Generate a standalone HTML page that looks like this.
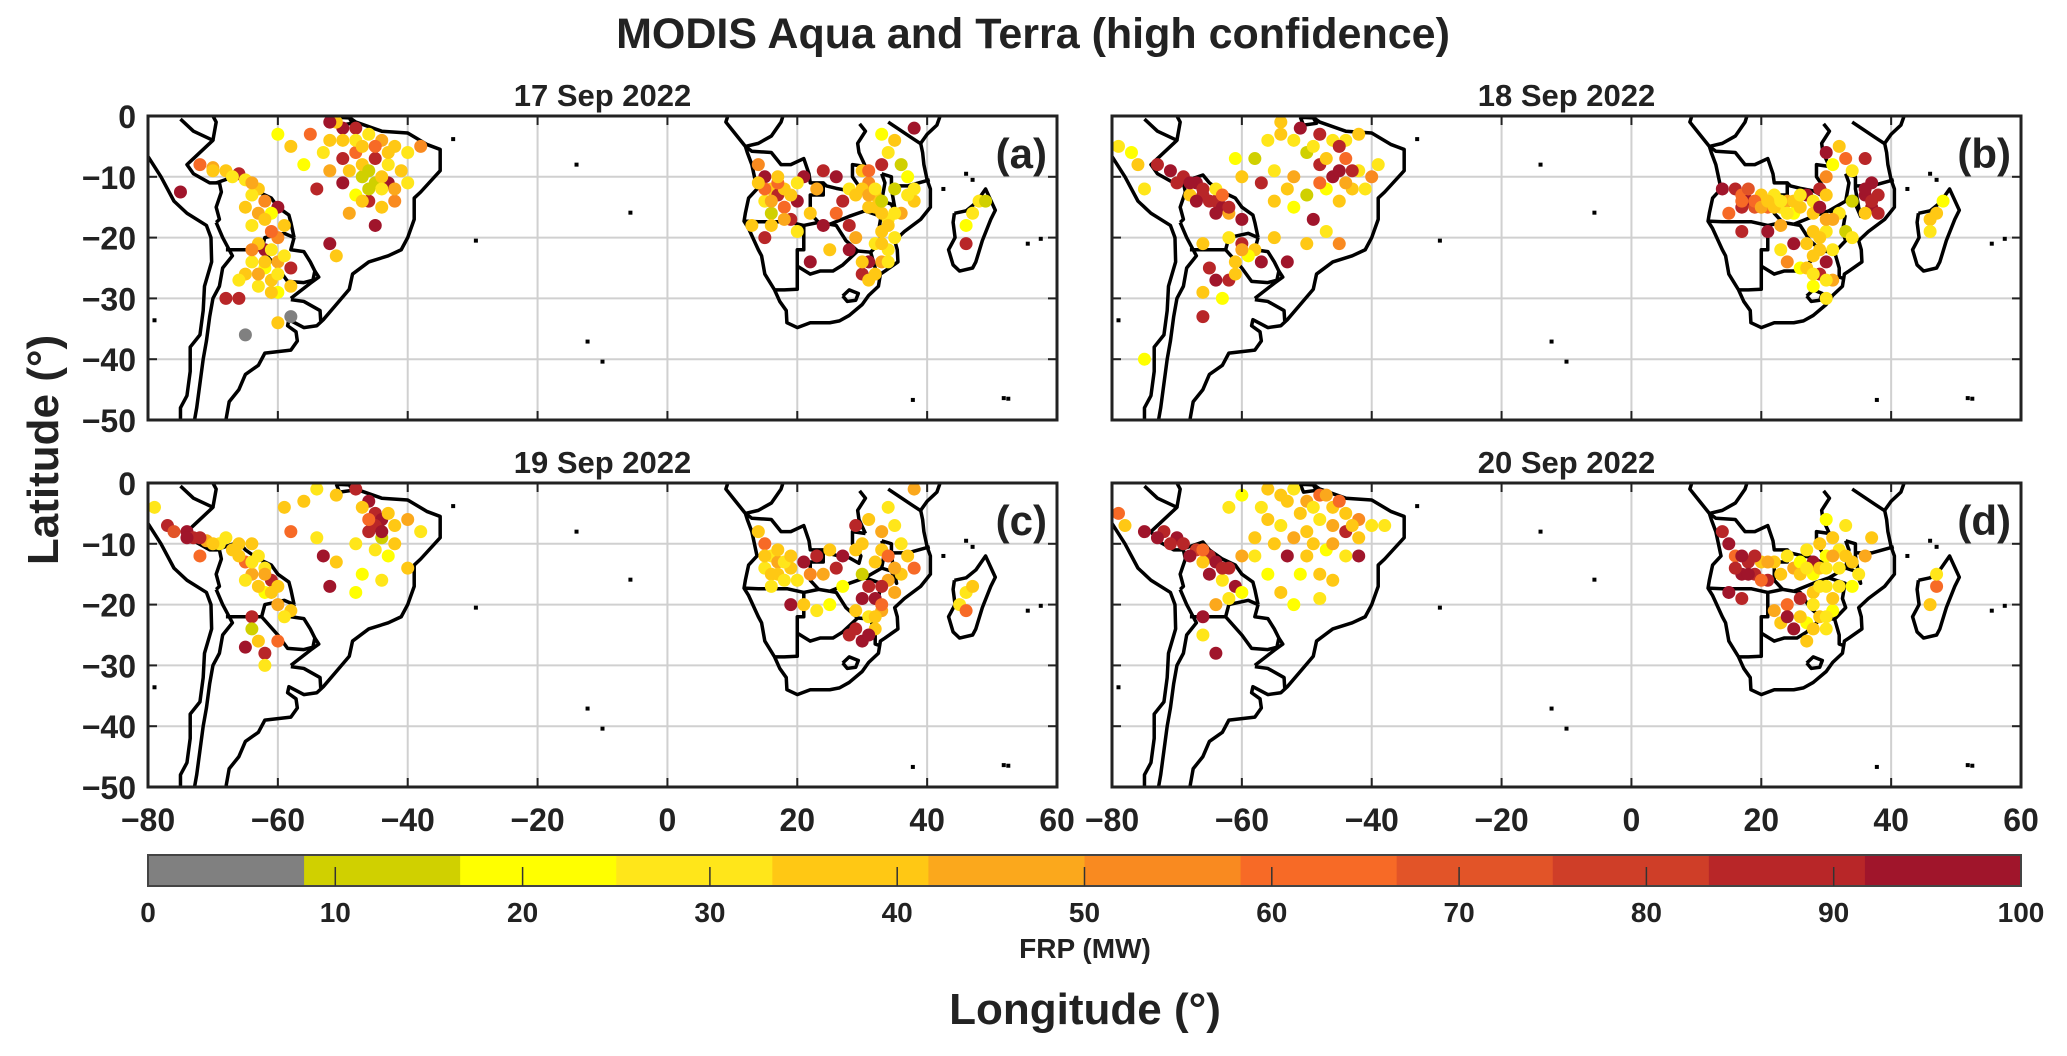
<!DOCTYPE html>
<html><head><meta charset="utf-8"><style>
body{margin:0;background:#fff}
svg text{font-family:"Liberation Sans",Arial,sans-serif;font-weight:bold;fill:#222}
</style></head><body>
<svg id="fig" xmlns="http://www.w3.org/2000/svg" width="2067" height="1051" viewBox="0 0 2067 1051">
<text x="1033" y="48" font-size="43" text-anchor="middle">MODIS Aqua and Terra (high confidence)</text>
<text transform="translate(58,450) rotate(-90)" font-size="44" text-anchor="middle">Latitude (°)</text>
<text x="1085" y="1024" font-size="44" text-anchor="middle">Longitude (°)</text>
<g id="cbar"></g>
</svg>
<script>
const lonTicks=[-80,-60,-40,-20,0,20,40,60];
const latTicks=[0,-10,-20,-30,-40,-50];
const cbTicks=[0,10,20,30,40,50,60,70,80,90,100];
const binColors=["#808080","#d0d000","#ffff00","#ffe61a","#ffc814","#fba81c","#f98a20","#f76a26","#e25428","#cf3e28","#b82628","#a0152b"];
const panelTitles=["17 Sep 2022","18 Sep 2022","19 Sep 2022","20 Sep 2022"];
const panelLabels=["(a)","(b)","(c)","(d)"];
const firesA=[-72,-8,60,-70,-8.5,45,-68,-9,35,-66,-9.5,90,-65,-10.5,30,-63,-12,40,-64,-13,25,-62,-14,55,-60,-15,95,-61,-16,20,-63,-16,45,-59,-18,35,-60,-20,50,-62,-22,95,-64,-24,30,-65,-26,40,-62,-25,20,-60,-24,45,-58,-25,90,-63,-28,25,-61,-27,35,-60,-29,20,-66,-30,85,-68,-30,90,-58,-33,5,-65,-36,5,-60,-34,40,-75,-12.5,95,-52,-4,35,-50,-2,95,-48,-2,90,-51,-1,40,-46,-3,30,-44,-4,45,-42,-5,35,-48,-6,60,-45,-7,90,-43,-8,25,-47,-10,12,-45,-11,12,-43,-11,95,-41,-9,40,-40,-11,30,-42,-14,50,-44,-15,40,-46,-14,85,-48,-13,20,-50,-11,95,-52,-9,45,-54,-12,90,-56,-8,20,-58,-5,40,-60,-3,20,-55,-3,60,-53,-6,25,-49,-16,45,-45,-18,95,-52,-21,95,-51,-23,35,-38,-5,50,-40,-6,25,-44,-10,35,-47,-8,40,
14,-8,50,15,-10,95,16,-12,40,15,-14,25,17,-13,90,18,-15,60,16,-16,15,18,-12,35,20,-14,95,19,-17,90,22,-16,40,21,-10,95,24,-9,90,26,-10,95,23,-12,45,27,-14,90,26,-16,60,28,-12,30,30,-9,40,31,-11,50,32,-13,35,33,-8,90,34,-6,25,35,-4,40,36,-8,12,37,-10,20,38,-14,35,36,-16,45,34,-17,30,33,-19,40,32,-21,25,34,-22,30,33,-24,45,31,-24,95,30,-26,90,31,-27,35,29,-20,45,28,-22,95,25,-22,40,22,-24,95,20,-19,25,13,-18,35,15,-20,90,47,-16,25,48,-14,30,46,-18,20,46,-21,85,49,-14,12,38,-2,95,33,-3,20,31,-15,40,35,-12,12,24,-18,95,28,-18,90];
const extraA=[-70,-9,40,-67,-10,30,-64,-11,45,-65,-15,35,-62,-17,40,-64,-18,25,-61,-19,60,-63,-21,40,-61,-22,30,-64,-22,55,-62,-24,35,-60,-26,25,-63,-26,45,-66,-27,30,-61,-29,35,-58,-28,40,-59,-23,30,-50,-4,40,-48,-4,25,-47,-5,35,-45,-5,60,-43,-6,40,-46,-9,12,-44,-12,30,-46,-12,12,-42,-12,45,-49,-9,35,-50,-7,90,-52,-1,95,-47,-14,40,
16,-14,45,17,-11,60,19,-13,40,18,-17,45,17,-10,35,15,-12,60,20,-11,25,29,-13,40,30,-12,35,31,-13,45,32,-12,30,31,-9,60,32,-15,35,33,-16,40,35,-16,30,34,-18,35,35,-20,25,33,-21,40,34,-24,30,32,-26,40,30,-24,35,33,-14,12,37,-13,30,38,-12,25,16,-18,40,14,-11,35];
const firesB=[-79,-5,25,-77,-6,20,-76,-8,35,-73,-8,90,-71,-9,95,-69,-10,90,-67,-11,95,-66,-13,90,-64,-14,85,-63,-15,95,-62,-16,45,-64,-12,30,-68,-13,40,-60,-17,95,-62,-20,30,-60,-21,90,-58,-22,40,-57,-24,95,-59,-23,20,-66,-21,35,-65,-25,90,-64,-27,95,-62,-27,90,-61,-26,40,-66,-29,35,-63,-30,20,-66,-33,90,-75,-12,25,-75,-40,20,-54,-1,35,-51,-2,95,-48,-3,90,-46,-4,30,-44,-4,25,-42,-3,40,-50,-6,12,-48,-8,90,-46,-10,95,-44,-7,60,-42,-9,25,-40,-10,50,-43,-12,40,-45,-14,35,-47,-12,20,-50,-13,12,-52,-10,45,-55,-9,25,-57,-11,90,-55,-14,40,-52,-15,20,-49,-17,95,-47,-19,30,-45,-21,50,-50,-21,40,-53,-24,95,-55,-20,35,-56,-4,30,-58,-7,12,-60,-10,40,-61,-7,20,-45,-5,90,-39,-8,25,
16,-12,90,17,-13,60,18,-14,95,19,-15,70,17,-15,85,20,-13,40,22,-13,30,21,-15,60,23,-15,25,24,-14,45,25,-16,20,26,-15,35,27,-13,95,28,-14,30,29,-12,90,30,-10,50,31,-8,20,30,-6,95,32,-5,40,33,-7,60,34,-9,25,36,-7,90,37,-11,95,38,-13,90,37,-15,95,36,-16,40,34,-14,12,32,-16,30,31,-17,45,30,-19,25,28,-19,35,27,-21,40,25,-21,95,23,-22,30,24,-24,50,26,-25,20,28,-23,40,30,-24,95,31,-22,25,29,-26,90,31,-27,45,28,-28,20,30,-30,30,21,-19,95,17,-19,90,23,-18,45,46,-17,35,47,-16,40,48,-14,20,46,-19,25,33,-19,12,34,-20,30,14,-12,95,15,-16,60];
const extraB=[-70,-11,90,-68,-11,95,-66,-12,90,-65,-14,90,-64,-16,95,-62,-15,90,-63,-13,60,-67,-14,95,-61,-24,35,-60,-22,45,-54,-3,40,-52,-4,30,-49,-5,25,-47,-7,40,-45,-9,95,-43,-9,90,-44,-11,45,-41,-12,30,-48,-11,60,-53,-12,35,
17,-14,60,18,-12,70,19,-14,60,20,-15,45,21,-14,35,22,-15,40,23,-14,30,24,-16,25,25,-14,35,26,-13,30,28,-16,40,29,-15,95,30,-13,35,30,-17,45,36,-13,95,37,-14,90,36,-12,95,38,-16,90,29,-22,35,27,-25,40,28,-26,30,30,-27,25,29,-20,40];
const firesC=[-79,-4,30,-77,-7,90,-76,-8,70,-74,-8,95,-73,-9,90,-71,-9.5,45,-69,-10,30,-68,-9,25,-66,-10,35,-64,-10,40,-63,-12,30,-65,-13,60,-64,-15,45,-62,-14,25,-61,-16,90,-60,-17,35,-62,-18,20,-60,-20,45,-58,-21,35,-59,-22,25,-64,-22,90,-64,-24,12,-63,-26,40,-60,-26,60,-62,-28,90,-62,-30,30,-65,-27,95,-72,-12,60,-54,-1,30,-51,-2,40,-48,-1,90,-46,-3,95,-45,-5,90,-44,-6,95,-42,-7,35,-46,-8,90,-44,-9,12,-45,-11,30,-43,-12,20,-48,-10,25,-42,-10,40,-40,-6,45,-38,-8,30,-56,-3,40,-54,-9,25,-53,-12,95,-51,-13,40,-47,-15,20,-44,-16,30,-52,-17,95,-48,-18,20,-40,-14,35,-58,-8,60,-59,-4,35,
14,-8,40,15,-10,60,16,-12,30,17,-13,45,15,-14,25,17,-15,35,19,-14,40,18,-16,30,20,-16,25,21,-13,95,23,-12,90,22,-15,50,24,-15,45,26,-14,90,27,-12,95,29,-11,40,30,-10,35,29,-7,90,31,-6,40,33,-8,45,35,-7,30,36,-10,25,37,-12,40,38,-14,60,36,-15,35,34,-16,45,31,-17,90,30,-19,95,29,-21,35,31,-22,25,33,-21,45,32,-24,40,30,-26,95,28,-25,90,25,-20,20,23,-21,30,21,-20,40,27,-17,20,19,-20,95,46,-18,30,45,-20,25,47,-17,40,46,-21,60,38,-1,45,34,-4,25,25,-11,35,30,-15,12];
const extraC=[-74,-9,95,-72,-9,90,-70,-10,40,-67,-11,35,-66,-12,40,-64,-13,30,-62,-15,45,-63,-17,35,-65,-16,25,-61,-18,40,-45,-7,90,-44,-8,95,-46,-6,60,-43,-5,40,-47,-4,35,
15,-12,40,16,-15,35,18,-13,30,16,-17,25,19,-12,35,17,-11,40,32,-13,40,33,-11,35,34,-12,60,35,-14,45,33,-17,90,32,-19,95,33,-20,60,32,-22,40,31,-25,95,29,-24,90,35,-18,45];
const firesD=[-79,-5,60,-78,-7,35,-75,-8,95,-72,-8,90,-70,-9,95,-69,-10,90,-67,-11,80,-65,-12,90,-64,-13,95,-62,-14,85,-66,-13,40,-63,-16,30,-61,-17,95,-62,-19,25,-60,-18,20,-64,-20,45,-66,-22,95,-66,-25,30,-64,-28,95,-56,-1,40,-54,-2,35,-52,-1,30,-50,-3,45,-48,-2,60,-46,-4,40,-44,-5,35,-42,-6,50,-48,-6,30,-46,-7,45,-44,-8,90,-42,-9,40,-40,-7,25,-38,-7,30,-50,-8,35,-52,-9,45,-54,-7,30,-56,-6,40,-58,-9,35,-53,-12,95,-50,-12,40,-47,-11,20,-44,-12,30,-42,-12,95,-48,-15,35,-51,-15,20,-46,-16,40,-58,-12,25,-60,-12,45,-56,-15,20,-54,-18,35,-52,-20,20,-48,-19,30,-60,-2,20,-62,-4,25,-46,-10,45,
14,-8,90,15,-10,95,16,-12,60,18,-13,90,17,-15,95,19,-15,85,20,-13,40,21,-16,90,22,-13,35,24,-12,25,25,-14,45,26,-13,20,27,-11,30,28,-13,95,29,-10,35,30,-12,20,31,-9,40,32,-11,25,33,-7,30,30,-6,20,34,-13,35,35,-15,25,36,-12,45,34,-17,20,32,-17,30,30,-17,25,28,-18,40,26,-19,90,24,-20,60,22,-21,45,23,-23,40,25,-24,95,27,-23,20,29,-22,35,31,-21,20,30,-24,25,27,-26,35,28,-15,20,17,-19,90,15,-18,95,47,-17,60,46,-20,35,47,-15,25,37,-9,40];
const extraD=[-73,-9,95,-71,-10,90,-68,-12,95,-66,-11,60,-63,-14,90,-65,-15,95,-53,-3,40,-51,-5,35,-49,-4,30,-47,-2,45,-45,-3,60,-43,-7,40,-49,-10,35,-55,-10,40,-57,-4,30,
16,-14,90,18,-15,95,19,-12,90,17,-12,95,20,-16,60,21,-13,45,23,-15,35,26,-15,40,27,-14,30,29,-14,35,30,-14,25,31,-12,45,29,-17,30,31,-19,35,28,-20,25,26,-22,40,24,-22,95,28,-24,35,30,-22,25,32,-14,30,33,-12,40];
const fireSets=[firesA.concat(extraA),firesB.concat(extraB),firesC.concat(extraC),firesD.concat(extraD)];

const coast=[
[[-80,0],[-80.5,-3],[-81,-5],[-79.5,-7.5],[-78,-10],[-76,-14],[-74,-16],[-71,-18],[-70.3,-20],[-70.2,-24],[-71.3,-28],[-71.5,-32],[-72,-36],[-73.5,-38],[-73.5,-42],[-74,-46],[-75,-48],[-75,-51]],
[[-68.5,-51],[-68,-50],[-67.5,-47],[-66,-45],[-65,-42.5],[-63,-41],[-62,-39],[-58,-38.5],[-57,-37],[-57.2,-35.5],[-58.5,-34.5],[-58.3,-33.5],[-56,-34.8],[-54,-34.5],[-53,-33.5],[-51,-31],[-49,-28.5],[-48.5,-26],[-46,-24],[-43,-23],[-41,-22],[-40,-20],[-39,-17],[-39,-13.5],[-38,-12.5],[-35,-9],[-35,-5.5],[-37,-4.7],[-40,-2.8],[-44,-2.5],[-48,-1],[-50,0.5]],
[[-51,-0.2],[-49,-0.3],[-48.5,-1.2],[-50.5,-1.5],[-51,-0.2]],
[[9.3,0],[9,-1],[10.5,-3],[12,-5],[12.3,-6],[13,-8],[13.5,-10.5],[13.8,-12],[12.5,-13.5],[12,-16],[11.8,-17.3],[12.5,-18.5],[14,-22],[14.5,-23],[15,-26],[16.5,-28.6],[17.3,-30.5],[18.3,-32],[18.4,-34],[20,-34.8],[22,-34],[25,-34],[26.5,-33.7],[28,-32.8],[30,-31],[31,-29.5],[32.5,-28],[32.8,-26],[33.5,-25.5],[35.5,-24],[35.4,-22],[35,-20.5],[36.5,-19],[39,-17],[40.5,-15],[40.5,-12],[40,-10.5],[39.5,-8],[39.3,-6],[39,-4.5],[40,-3],[41.5,-1.5],[42,0]],
[[27,-29.6],[28,-28.6],[29.4,-29.2],[29,-30.3],[27.7,-30.5],[27,-29.6]],
[[44.2,-16],[46,-15.6],[47.5,-14.3],[49,-12],[50.5,-15.5],[49.8,-17],[48.5,-20.5],[47.5,-24],[47,-25],[45,-25.5],[44,-24.5],[43.3,-22],[44.3,-20],[44,-17.5],[44.2,-16]]
];
const borders=[
[[-69.5,-17.5],[-68.5,-20],[-67,-23],[-68.5,-25],[-69,-28],[-70,-30],[-70.5,-33],[-71,-37],[-71.5,-40],[-72,-44],[-72.5,-48],[-73,-51]],
[[-75,-0.5],[-73,-2.5],[-70,-4],[-73,-7],[-74,-8],[-73,-9.5],[-70.5,-11],[-69,-11],[-68.7,-12.5],[-69.5,-15],[-69,-17],[-69.5,-17.5]],
[[-69.5,-11],[-66,-9.7],[-65,-11],[-63,-12.5],[-61,-13.5],[-60,-15],[-58.3,-16.3],[-58,-17.5],[-57.5,-20]],
[[-57.5,-20],[-58,-22],[-56,-22.3],[-55,-24],[-54.3,-25.5],[-54.6,-27],[-56,-27.4],[-58.5,-27.2],[-60,-25],[-62.5,-22],[-62,-20],[-59,-19.3],[-57.5,-20]],
[[-68,-22],[-65,-22],[-62.5,-22]],
[[-58,-30.2],[-56,-30.5],[-53.5,-32],[-53.4,-33.7]],
[[-58,-30],[-55,-27.5],[-53.7,-26.5],[-54.3,-25.5]],
[[-70,-4],[-69.5,-1],[-70,0]],
[[12,-5],[13,-5.8],[16,-6],[17.5,-8],[19,-8],[21,-7],[21.8,-9.5],[22,-11],[24,-11],[24,-13],[22,-13],[22,-16],[23.3,-17.5]],
[[11.8,-17.3],[14,-17.4],[18.5,-17.4],[21,-18],[23.3,-17.5],[25,-17.8]],
[[21,-18],[21,-22],[20,-22],[20,-24.7],[20,-28.5],[18,-28.6],[16.5,-28.6]],
[[20,-24.7],[22,-26],[23.5,-25.5],[25.5,-25.5],[27,-24.5],[29.3,-22.2],[27.5,-20.5],[26,-18],[25,-17.8]],
[[25,-17.8],[28,-16.5],[30.4,-15.6],[33,-14]],
[[30.4,-15.6],[32.9,-16.5],[32.5,-19],[33,-20.5],[31.3,-22.4],[29.3,-22.2]],
[[31.3,-22.4],[32,-25],[32,-26.5],[32.9,-26.8]],
[[24,-11],[24.5,-11.5],[26,-11.9],[28,-12.3],[29.5,-13.2],[29.8,-12],[28.5,-10],[28.5,-8],[30.5,-8.3]],
[[33,-9.5],[33.5,-11],[33,-14],[34.5,-14.5],[35.3,-16.5],[35,-15],[34.5,-12],[34.5,-10],[33,-9.5]],
[[34.5,-11.5],[37,-11.5],[40.4,-10.5]],
[[30.5,-8.3],[29.5,-6],[29.3,-4.5],[30.5,-2.5],[29.6,-1.3]],
[[34,-1],[37.5,-3.5],[39.2,-4.7]],
[[12,-5],[14,-4.5],[16,-3.3],[17.5,-1],[17.8,0]]
];
const islets=[[-14,-8],[-5.7,-15.9],[-12.3,-37.1],[-10,-40.4],[37.8,-46.7],[51.8,-46.4],[52.5,-46.5],[55.5,-21],[57.5,-20.2],[-33,-3.8],[-29.5,-20.5],[-79,-33.6],[46,-9.5],[47,-10.5],[42.5,-12]];

const NS="http://www.w3.org/2000/svg";
const svg=document.getElementById('fig');
function mk(tag,attrs,parent){const e=document.createElementNS(NS,tag);for(const k in attrs)e.setAttribute(k,attrs[k]);(parent||svg).appendChild(e);return e;}
const panels=[{x:148,y:116},{x:1112,y:116},{x:148,y:483},{x:1112,y:483}];
const PW=909,PH=304;
function colorFor(v){let i=Math.floor(v/(100/12));if(i>11)i=11;if(i<0)i=0;return binColors[i];}

panels.forEach((p,pi)=>{
  const xs=lon=>p.x+(lon+80)/140*PW;
  const ys=lat=>p.y+(-lat)/50*PH;
  const g=mk('g',{});
  
  
  const cid='clip'+pi;
  const cp=mk('clipPath',{id:cid},g);mk('rect',{x:p.x,y:p.y,width:PW,height:PH},cp);
  lonTicks.forEach(t=>{if(t>-80&&t<60){const l=mk('line',{x1:xs(t),x2:xs(t),y1:p.y,y2:p.y+PH,stroke:'#d0d0d0','stroke-width':2},g);}});
  latTicks.forEach(t=>{if(t<0&&t>-50){const l=mk('line',{x1:p.x,x2:p.x+PW,y1:ys(t),y2:ys(t),stroke:'#d0d0d0','stroke-width':2},g);}});
  const mg=mk('g',{'clip-path':'url(#'+cid+')'},g);
  coast.forEach(c=>{const pl=mk('polyline',{points:c.map(q=>xs(q[0])+','+ys(q[1])).join(' '),fill:'none',stroke:'#000','stroke-width':3.5,'stroke-linejoin':'round'},mg);});
  borders.forEach(c=>{const pl=mk('polyline',{points:c.map(q=>xs(q[0])+','+ys(q[1])).join(' '),fill:'none',stroke:'#000','stroke-width':3.5,'stroke-linejoin':'round'},mg);});
  islets.forEach(q=>{const r=mk('rect',{x:xs(q[0])-2,y:ys(q[1])-2,width:4,height:4,fill:'#000'},mg);});
  const d=fireSets[pi];
  for(let i=0;i<d.length;i+=3){
    const c=mk('circle',{cx:xs(d[i]),cy:ys(d[i+1]),r:6.5,fill:colorFor(d[i+2])},mg);
    
    
  }
  const fr=mk('rect',{x:p.x,y:p.y,width:PW,height:PH,fill:'none',stroke:'#222','stroke-width':3},g);
  
  lonTicks.forEach(t=>{mk('line',{x1:xs(t),x2:xs(t),y1:p.y+PH,y2:p.y+PH-9,stroke:'#222','stroke-width':2},g);mk('line',{x1:xs(t),x2:xs(t),y1:p.y,y2:p.y+9,stroke:'#222','stroke-width':2},g);});
  latTicks.forEach(t=>{mk('line',{x1:p.x,x2:p.x+9,y1:ys(t),y2:ys(t),stroke:'#222','stroke-width':2},g);mk('line',{x1:p.x+PW,x2:p.x+PW-9,y1:ys(t),y2:ys(t),stroke:'#222','stroke-width':2},g);});
  const tt=mk('text',{x:p.x+PW/2,y:p.y-10,'font-size':31,'text-anchor':'middle'},g);tt.textContent=panelTitles[pi];
  
  const lb=mk('text',{x:p.x+PW-10,y:p.y+52,'font-size':42,'text-anchor':'end'},g);lb.textContent=panelLabels[pi];
  
  if(pi%2===0){latTicks.forEach(t=>{const e=mk('text',{x:p.x-12,y:ys(t)+12,'font-size':32,'text-anchor':'end'},g);e.textContent=t===0?'0':'\u2212'+(-t);});}
  if(pi>=2){lonTicks.forEach(t=>{const e=mk('text',{x:xs(t),y:p.y+PH+44,'font-size':32,'text-anchor':'middle'},g);e.textContent=t<0?'\u2212'+(-t):String(t);});}
});

const cb=document.getElementById('cbar');
const CX=148,CW=1873,CY=855,CH=31;
const cxs=v=>CX+v/100*CW;
binColors.forEach((c,i)=>{const r=mk('rect',{x:cxs(i*100/12),y:CY,width:CW/12+0.5,height:CH,fill:c},cb);});
mk('rect',{x:CX,y:CY,width:CW,height:CH,fill:'none',stroke:'#444','stroke-width':2},cb);
cbTicks.forEach(t=>{
  if(t>0&&t<100)mk('line',{x1:cxs(t),x2:cxs(t),y1:CY+CH,y2:CY+CH-19,stroke:'#333','stroke-width':1.5},cb);
  const e=mk('text',{x:cxs(t),y:CY+67,'font-size':28,'text-anchor':'middle'},cb);e.textContent=String(t);
  
});
const fl=mk('text',{x:1085,y:958,'font-size':28,'text-anchor':'middle'},cb);fl.textContent='FRP (MW)';

</script>
</body></html>
